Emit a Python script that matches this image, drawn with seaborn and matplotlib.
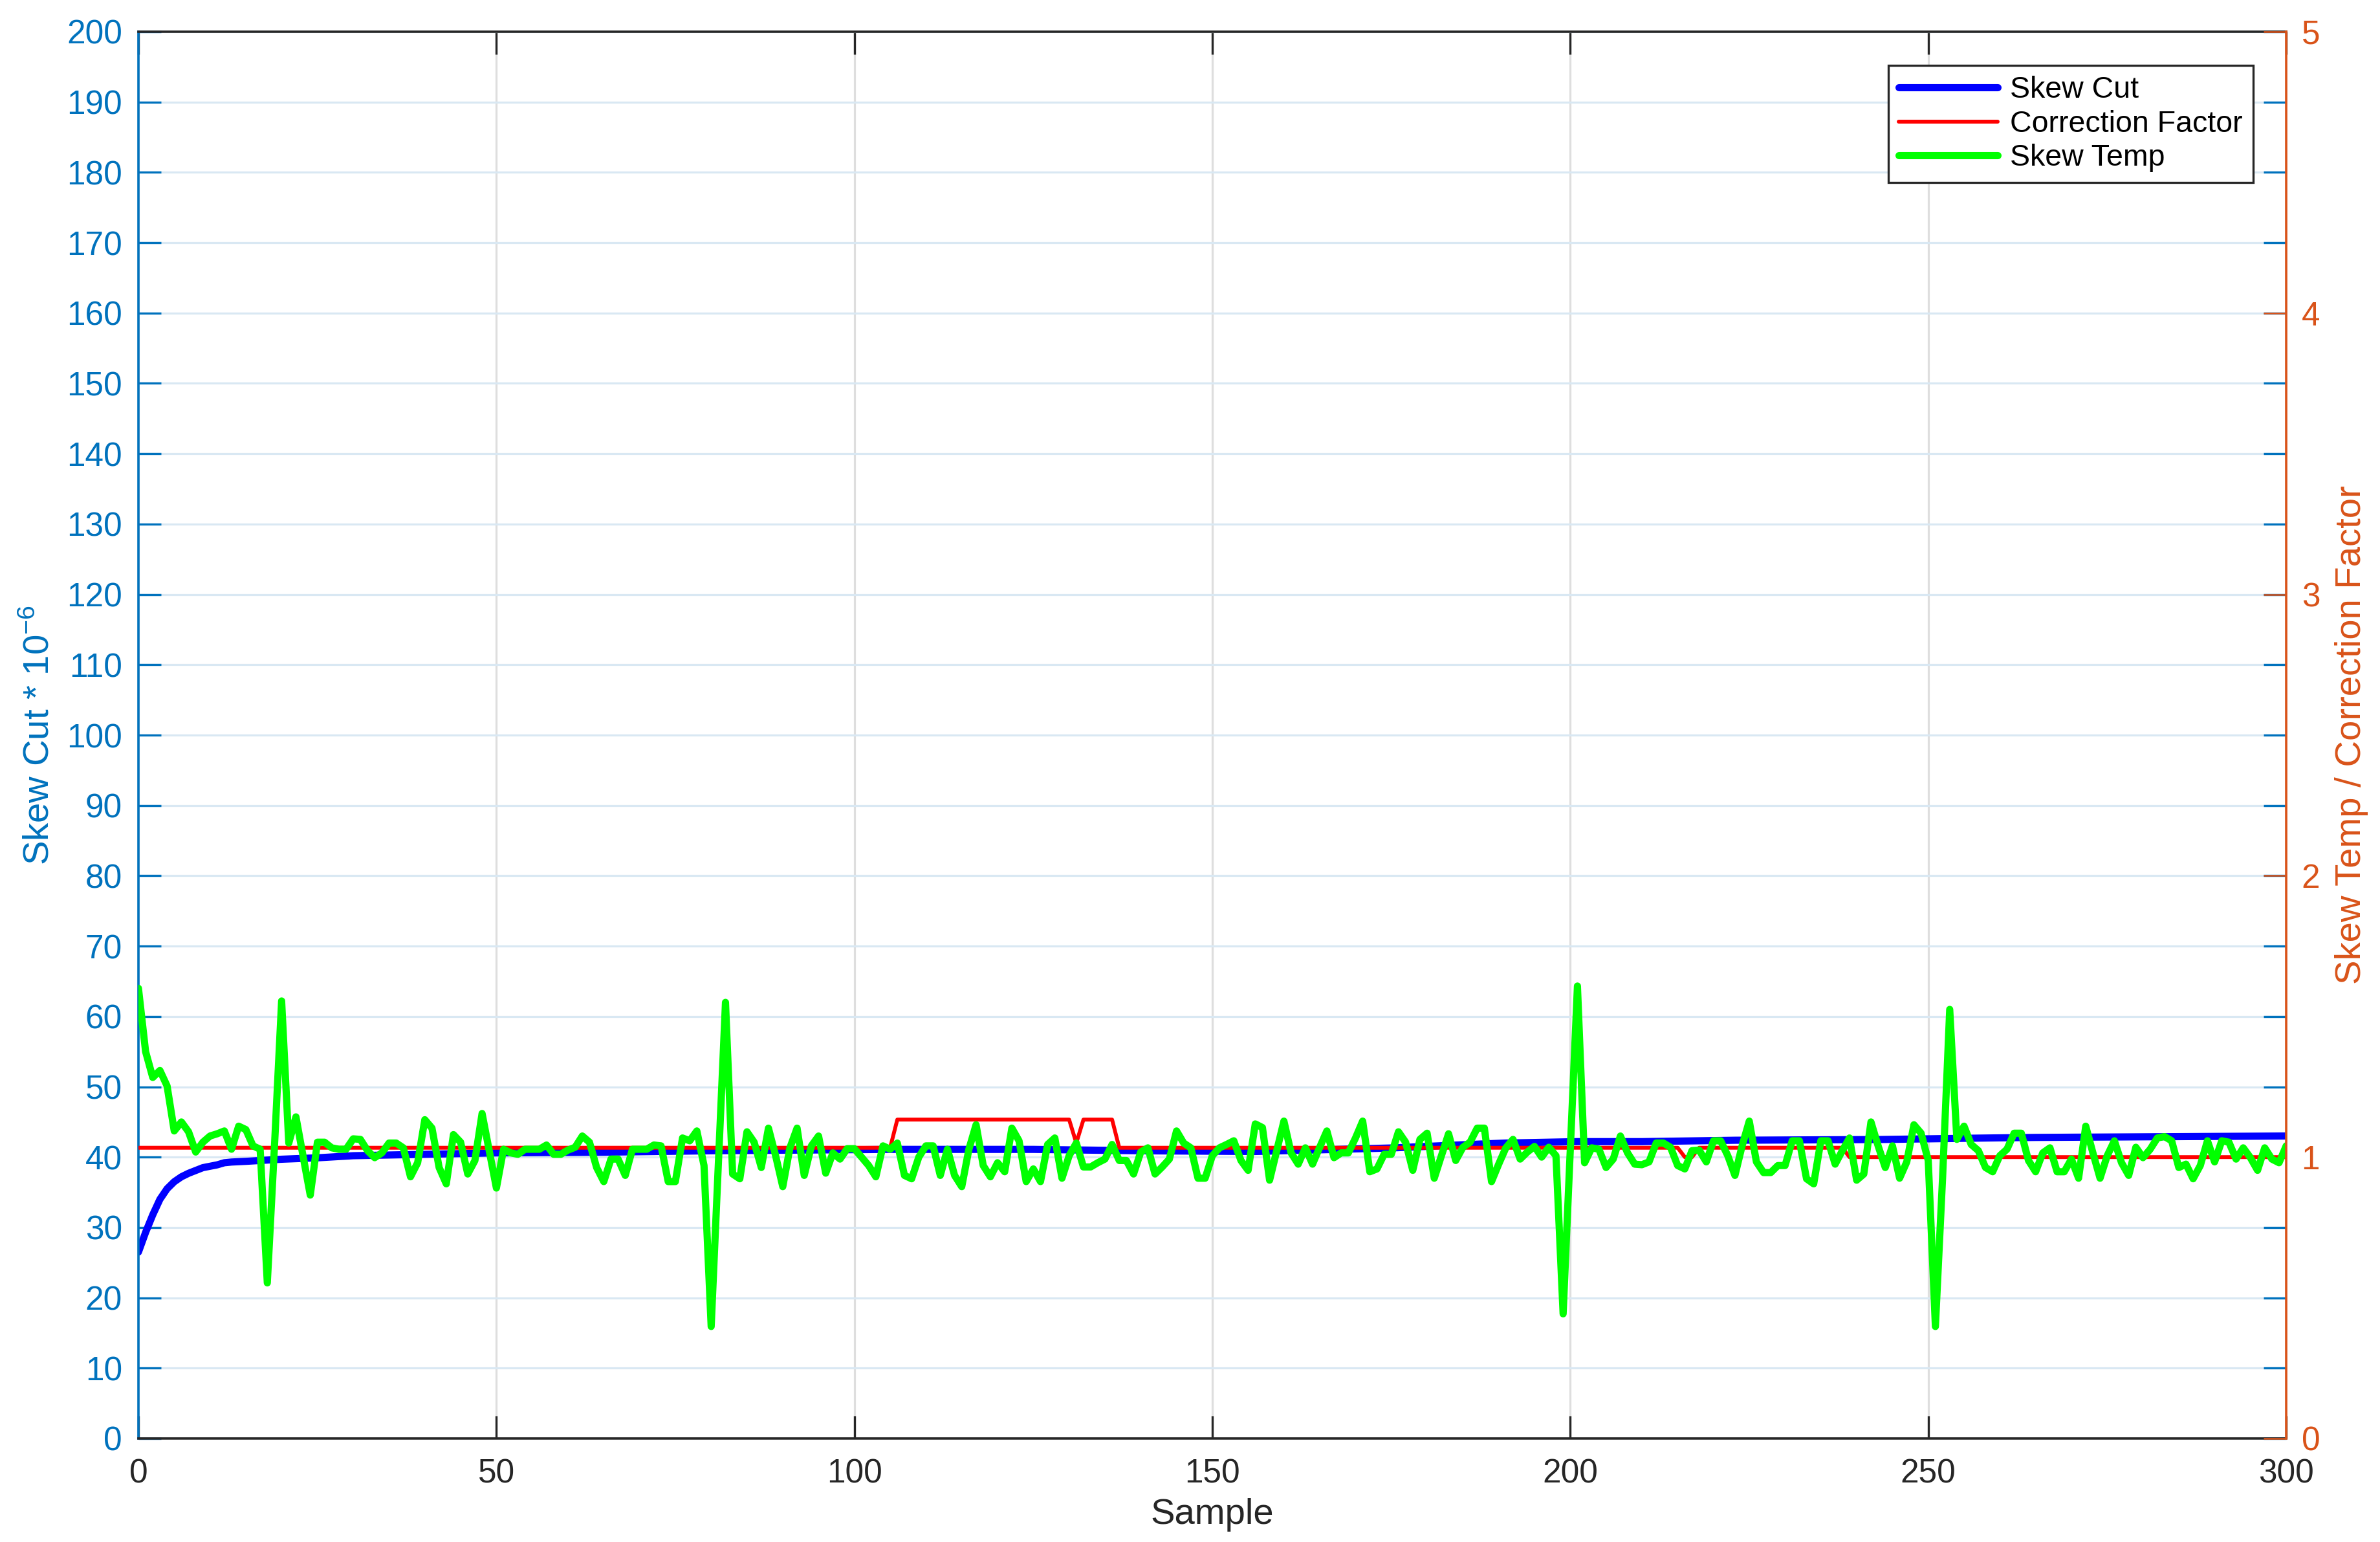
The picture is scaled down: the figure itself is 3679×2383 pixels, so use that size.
import matplotlib
matplotlib.use("Agg")
import matplotlib.pyplot as plt
import seaborn as sns
import numpy as np
import pandas as pd

# ---------------- data ----------------
# Skew Cut (left axis) - polyline vertices
cut_x = [0, 1, 2, 3, 4, 5, 6, 7, 8, 9, 10, 11, 12, 13, 15, 20, 25, 30, 40, 50,
         65, 80, 105, 125, 140, 156, 175, 186, 191, 201, 210, 223, 243, 257, 265, 300]
cut_y = [26.5, 29.3, 31.8, 34.0, 35.5, 36.5, 37.2, 37.7, 38.1, 38.5, 38.7, 38.9, 39.2, 39.3, 39.4, 39.7,
         39.9, 40.2, 40.4, 40.6, 40.7, 40.9, 41.1, 41.1, 40.9, 40.8, 41.3, 41.8, 42.0, 42.2, 42.2,
         42.4, 42.5, 42.7, 42.8, 43.0]

# Correction Factor (right axis) - step vertices
corr_x = [0, 105, 106, 130, 131, 132, 136, 137, 215, 216, 217, 218, 238, 239, 300]
corr_y = [1.0333, 1.0333, 1.1333, 1.1333, 1.05, 1.1333, 1.1333, 1.0333, 1.0333, 1.0, 1.0,
          1.0333, 1.0333, 1.0, 1.0]

# Skew Temp (right axis), samples 0..300
temp_y = [
    1.600, 1.375, 1.283, 1.308, 1.253, 1.093, 1.125, 1.090, 1.018, 1.053,
    1.075, 1.083, 1.093, 1.028, 1.110, 1.098, 1.040, 1.028, 0.553, 1.038,
    1.555, 1.050, 1.143, 1.003, 0.865, 1.053, 1.053, 1.033, 1.028, 1.028,
    1.065, 1.063, 1.023, 0.998, 1.015, 1.050, 1.050, 1.033, 0.930, 0.980,
    1.133, 1.103, 0.963, 0.905, 1.080, 1.053, 0.940, 0.988, 1.155, 1.023,
    0.890, 1.028, 1.015, 1.010, 1.028, 1.028, 1.028, 1.043, 1.010, 1.010,
    1.025, 1.035, 1.075, 1.053, 0.963, 0.913, 0.993, 0.993, 0.935, 1.028,
    1.028, 1.028, 1.043, 1.040, 0.913, 0.913, 1.068, 1.058, 1.093, 0.970,
    0.398, 0.975, 1.550, 0.940, 0.923, 1.090, 1.053, 0.963, 1.103, 1.005,
    0.895, 1.033, 1.103, 0.935, 1.040, 1.075, 0.943, 1.015, 0.993, 1.030,
    1.030, 1.000, 0.970, 0.930, 1.040, 1.028, 1.050, 0.935, 0.923, 1.000,
    1.040, 1.040, 0.935, 1.028, 0.935, 0.895, 1.028, 1.115, 0.970, 0.930,
    0.980, 0.948, 1.103, 1.058, 0.913, 0.958, 0.913, 1.045, 1.068, 0.925,
    1.005, 1.050, 0.965, 0.965, 0.980, 0.993, 1.045, 0.988, 0.988, 0.940,
    1.018, 1.033, 0.940, 0.965, 0.993, 1.093, 1.050, 1.033, 0.925, 0.925,
    1.005, 1.033, 1.045, 1.058, 0.988, 0.953, 1.118, 1.105, 0.918, 1.023,
    1.128, 1.015, 0.975, 1.033, 0.975, 1.035, 1.093, 0.998, 1.015, 1.015,
    1.068, 1.128, 0.948, 0.958, 1.010, 1.010, 1.090, 1.053, 0.953, 1.063,
    1.085, 0.925, 1.005, 1.083, 0.988, 1.035, 1.053, 1.103, 1.103, 0.913,
    0.975, 1.033, 1.063, 0.993, 1.018, 1.038, 1.000, 1.035, 1.005, 0.443,
    1.023, 1.608, 0.980, 1.033, 1.028, 0.963, 0.993, 1.075, 1.015, 0.975,
    0.973, 0.983, 1.050, 1.050, 1.035, 0.970, 0.958, 1.023, 1.025, 0.983,
    1.058, 1.058, 1.005, 0.935, 1.040, 1.128, 0.983, 0.945, 0.945, 0.970,
    0.970, 1.058, 1.058, 0.923, 0.905, 1.058, 1.058, 0.975, 1.023, 1.068,
    0.918, 0.940, 1.125, 1.040, 0.963, 1.040, 0.925, 0.983, 1.115, 1.085,
    0.988, 0.398, 0.925, 1.525, 1.063, 1.110, 1.045, 1.023, 0.963, 0.948,
    1.005, 1.028, 1.085, 1.085, 0.988, 0.948, 1.015, 1.033, 0.948, 0.948,
    0.993, 0.925, 1.110, 1.015, 0.925, 1.005, 1.058, 0.980, 0.935, 1.035,
    0.998, 1.028, 1.068, 1.073, 1.058, 0.963, 0.975, 0.923, 0.970, 1.058,
    0.983, 1.058, 1.053, 0.993, 1.033, 0.998, 0.953, 1.033, 0.993, 0.980,
    1.040,
]
temp_x = list(range(len(temp_y)))

x_ticks = [0, 50, 100, 150, 200, 250, 300]
left_ticks = list(range(0, 201, 10))
right_ticks = [0, 1, 2, 3, 4, 5]

# ---------------- style ----------------
sns.set_theme(style="white")
plt.rcParams['font.family'] = ['Liberation Sans', 'DejaVu Sans']
plt.rcParams['mathtext.fontset'] = 'custom'
plt.rcParams['mathtext.rm'] = 'Liberation Sans'

BLUE_AX = '#0072BD'
ORANGE_AX = '#D95319'
DARK = '#262626'
TICK_FS = 37
LABEL_FS = 40.5
LEG_FS = 33.5

fig = plt.figure(figsize=(36.79, 23.83), dpi=100)
ax = fig.add_axes([214 / 3679, 1 - 2223 / 2383, (3534 - 214) / 3679, (2223 - 49) / 2383])
ax2 = ax.twinx()

sns.lineplot(x=cut_x, y=cut_y, ax=ax, color='#0000FF', linewidth=8, label='Skew Cut',
             estimator=None, sort=False)
sns.lineplot(x=corr_x, y=corr_y, ax=ax2, color='#FF0000', linewidth=4.3, label='Correction Factor',
             estimator=None, sort=False)
sns.lineplot(x=temp_x, y=temp_y, ax=ax2, color='#00FF00', linewidth=8, label='Skew Temp',
             estimator=None, sort=False)

for a in (ax, ax2):
    if a.get_legend() is not None:
        a.get_legend().remove()

ax.set_xlim(0, 300)
ax.set_ylim(0, 200)
ax2.set_ylim(0, 5)
ax.set_xticks(x_ticks)
ax.set_yticks(left_ticks)
ax2.set_yticks(right_ticks)

# grid
ax.set_axisbelow(True)
ax.yaxis.grid(True, color='#D9E8F3', linewidth=2.3)
ax.xaxis.grid(True, color='#DEDEDE', linewidth=2.3)
ax2.grid(False)

# spines
for s in ['top', 'bottom']:
    ax.spines[s].set_color(DARK)
    ax.spines[s].set_linewidth(2.6)
ax.spines['left'].set_color(BLUE_AX)
ax.spines['left'].set_linewidth(2.6)
ax.spines['right'].set_visible(False)
for s in ['top', 'bottom', 'left']:
    ax2.spines[s].set_visible(False)
ax2.spines['right'].set_color(ORANGE_AX)
ax2.spines['right'].set_linewidth(2.6)

# ticks
ax.tick_params(axis='y', which='major', direction='in', left=True, right=True,
               labelleft=True, labelright=False, length=25, width=2.4,
               color=BLUE_AX, labelcolor=BLUE_AX, labelsize=TICK_FS, pad=18)
ax.tick_params(axis='x', which='major', direction='in', bottom=True, top=True,
               labelbottom=True, length=25, width=2.4, color=DARK,
               labelcolor=DARK, labelsize=TICK_FS, pad=22)
ax2.tick_params(axis='y', which='major', direction='in', right=True, left=False,
                labelright=True, labelleft=False, length=25, width=1.8,
                color=ORANGE_AX, labelcolor=ORANGE_AX, labelsize=TICK_FS, pad=17)

# labels
ax.set_xlabel('Sample', fontsize=LABEL_FS, color=DARK)
ax.xaxis.set_label_coords(0.5, -0.0425)
ax.set_ylabel('Skew Cut * 10$^{\\mathregular{-6}}$', fontsize=LABEL_FS, color=BLUE_AX)
ax.yaxis.set_label_coords(-0.038, 0.5)
ax2.set_ylabel('Skew Temp / Correction Factor', fontsize=LABEL_FS, color=ORANGE_AX)
ax2.yaxis.set_label_coords(1.0225, 0.5)

# legend
handles = ax.get_lines()[:1] + ax2.get_lines()[:2]
labels = ['Skew Cut', 'Correction Factor', 'Skew Temp']
leg = ax2.legend(handles, labels, loc='upper right', bbox_to_anchor=(0.9846, 0.976),
                 borderaxespad=0, fontsize=LEG_FS, frameon=True, fancybox=False,
                 framealpha=1, edgecolor=DARK, handlelength=3.3, handletextpad=0.4,
                 borderpad=0.35, labelspacing=0.18)
leg.get_frame().set_linewidth(2.4)
for t in leg.get_texts():
    t.set_color('black')

fig.savefig('out.png', dpi=100, facecolor='white')
